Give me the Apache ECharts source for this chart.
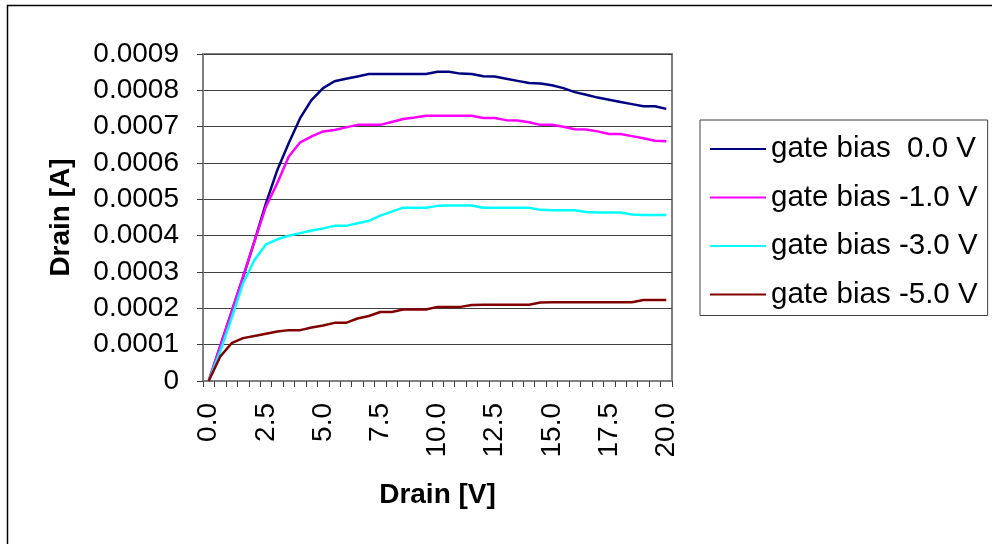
<!DOCTYPE html>
<html><head><meta charset="utf-8">
<script src="https://cdn.jsdelivr.net/npm/echarts@6/dist/echarts.min.js"></script>
<style>html,body{margin:0;padding:0;background:#fff}#c{width:992px;height:544px}</style>
</head><body><div id="c"></div>
<script>
const categories = ['0.0','0.5','1.0','1.5','2.0','2.5','3.0','3.5','4.0','4.5','5.0','5.5','6.0','6.5','7.0','7.5','8.0','8.5','9.0','9.5','10.0','10.5','11.0','11.5','12.0','12.5','13.0','13.5','14.0','14.5','15.0','15.5','16.0','16.5','17.0','17.5','18.0','18.5','19.0','19.5','20.0'];
const seriesNames = ['gate bias  0.0 V','gate bias -1.0 V','gate bias -3.0 V','gate bias -5.0 V'];
const gate0 = [0,0.000095,0.00019,0.000285,0.000385,0.000489,0.000581,0.000655,0.000724,0.000774,0.000806,0.000825,0.000832,0.000838,0.000845,0.000845,0.000845,0.000845,0.000845,0.000845,0.000851,0.000851,0.000846,0.000845,0.000839,0.000838,0.000832,0.000826,0.00082,0.000819,0.000814,0.000806,0.000795,0.000788,0.00078,0.000774,0.000768,0.000762,0.000756,0.000756,0.000749];
const gate1 = [0,0.000095,0.00019,0.000287,0.000384,0.00048,0.000545,0.000618,0.000657,0.000673,0.000687,0.000691,0.000698,0.000705,0.000705,0.000705,0.000713,0.000721,0.000725,0.00073,0.00073,0.00073,0.00073,0.00073,0.000724,0.000724,0.000718,0.000717,0.000712,0.000705,0.000705,0.0007,0.000693,0.000692,0.000687,0.00068,0.00068,0.000674,0.000668,0.000661,0.00066];
const gate3 = [0,0.000081,0.000173,0.000269,0.000333,0.000376,0.00039,0.0004,0.000407,0.000414,0.00042,0.000427,0.000427,0.000434,0.000441,0.000455,0.000466,0.000477,0.000477,0.000477,0.000482,0.000483,0.000483,0.000483,0.000477,0.000477,0.000477,0.000477,0.000477,0.000471,0.00047,0.00047,0.00047,0.000465,0.000464,0.000464,0.000464,0.000458,0.000457,0.000457,0.000457];
const gate5 = [0,0.000067,0.000104,0.000118,0.000124,0.00013,0.000136,0.00014,0.00014,0.000147,0.000153,0.00016,0.00016,0.000172,0.000179,0.00019,0.00019,0.000197,0.000197,0.000197,0.000204,0.000204,0.000204,0.000209,0.00021,0.00021,0.00021,0.00021,0.00021,0.000216,0.000217,0.000217,0.000217,0.000217,0.000217,0.000217,0.000217,0.000217,0.000223,0.000223,0.000223];
const colors = ['#000080','#FF00FF','#00FFFF','#800000'];
const allData = [gate0, gate1, gate3, gate5];

const font = '"Liberation Sans", Arial, sans-serif';
const chart = echarts.init(document.getElementById('c'), null, {renderer:'canvas'});
chart.setOption({
  animation: false,
  backgroundColor: '#fff',
  graphic: [{type:'rect', shape:{x: 7.5, y: 5.5, width: 1100, height: 700}, style:{fill:'none', stroke:'#000', lineWidth:1.5}, silent:true, z:-1}],
  grid: {left: 203, top: 54, right: 320, bottom: 163, containLabel: false, show: true, borderColor: '#808080', borderWidth: 2, backgroundColor: '#fff'},
  legend: {
    orient: 'vertical', left: 700, top: 120,
    data: seriesNames, icon: 'rect', itemWidth: 56, itemHeight: 2, itemGap: 18.5,
    padding: [14, 10, 6, 10],
    borderColor: '#404040', borderWidth: 1,
    textStyle: {fontFamily: font, fontSize: 29.5, color: '#000', lineHeight: 24}
  },
  xAxis: {
    type: 'category', data: categories, boundaryGap: true,
    name: 'Drain [V]', nameLocation: 'middle', nameGap: 100,
    nameTextStyle: {fontFamily: font, fontSize: 28, fontWeight: 'bold', color: '#000'},
    axisLine: {lineStyle: {color: '#808080', width: 2}},
    axisTick: {show: true, interval: 0, length: 6, lineStyle: {color: '#404040'}},
    axisLabel: {interval: 4, rotate: 90, margin: 22, fontFamily: font, fontSize: 28, color: '#000'},
    splitLine: {show: false}
  },
  yAxis: {
    type: 'value', min: 0, max: 0.0009, interval: 0.0001,
    name: 'Drain [A]', nameLocation: 'middle', nameGap: 128, nameRotate: 90,
    nameTextStyle: {fontFamily: font, fontSize: 28, fontWeight: 'bold', color: '#000'},
    axisLine: {show: true, lineStyle: {color: '#808080', width: 2}},
    axisTick: {show: true, length: 6, lineStyle: {color: '#404040'}},
    axisLabel: {margin: 24, fontFamily: font, fontSize: 28, color: '#000',
      formatter: v => v === 0 ? '0' : v.toFixed(4)},
    splitLine: {show: true, lineStyle: {color: '#404040', width: 1}}
  },
  series: seriesNames.map((n, k) => ({
    name: n, type: 'line', data: allData[k], showSymbol: false, symbol: 'none',
    lineStyle: {color: colors[k], width: 2.5}, itemStyle: {color: colors[k]}
  }))
});
</script></body></html>
